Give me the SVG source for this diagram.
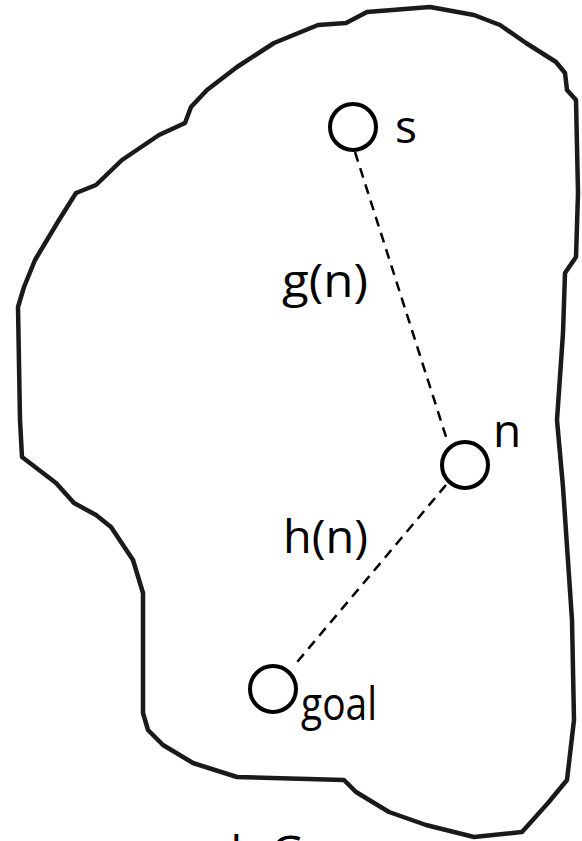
<svg xmlns="http://www.w3.org/2000/svg" width="582" height="841" viewBox="0 0 582 841">
<style>
.blob{fill:none;stroke:#1a1a1a;stroke-width:4.5;stroke-linejoin:round;stroke-linecap:round}
.node{fill:#fff;stroke:#000;stroke-width:4}
.edge{stroke:#000;stroke-width:2.5;stroke-dasharray:10 7;fill:none}
.lbl{font-family:"Open Sans","Noto Sans",sans-serif;font-size:46px;fill:#000}
</style>
<rect width="582" height="841" fill="#fff"/>
<g id="region">
<path class="blob" d="M346,23 L367,12 L430,7 L474,15 L500,25 L526,43 L556,62 L565,73 L567,90 L576,100 L578,193 L576,257 L565,273 L563,333 L557,420 L563,487 L572,620 L574,720 L567,780 L548,803 L522,832 L474,837 L426,825 L389,812 L356,792 L344,780 L237,777 L193,763 L163,745 L148,730 L143,713 L143,593 L133,560 L111,527 L96,515 L74,503 L56,483 L22,457 L20,420 L18,307 L24,287 L35,260 L59,220 L76,193 L96,185 L122,160 L159,135 L185,123 L191,107 L207,90 L237,67 L274,43 L318,25 Z"/>
</g>
<g id="connectors">
<line class="edge" x1="355" y1="152" x2="448" y2="443"/>
<line class="edge" x1="446" y1="485" x2="293" y2="667"/>
</g>
<g id="node-s">
<circle class="node" cx="353" cy="127" r="23"/>
<text class="lbl" x="395" y="143">s</text>
</g>
<g id="node-n">
<circle class="node" cx="465" cy="465" r="23"/>
<text class="lbl" x="493" y="447">n</text>
</g>
<g id="node-goal">
<circle class="node" cx="273" cy="689" r="23"/>
<text class="lbl" x="301" y="720" textLength="76" lengthAdjust="spacingAndGlyphs">goal</text>
</g>
<g id="labels">
<text class="lbl" x="282" y="297" textLength="86" lengthAdjust="spacingAndGlyphs">g(n)</text>
<text class="lbl" x="283" y="553" textLength="85" lengthAdjust="spacingAndGlyphs">h(n)</text>
<text class="lbl" x="133" y="869">graph G</text>
</g>
</svg>
